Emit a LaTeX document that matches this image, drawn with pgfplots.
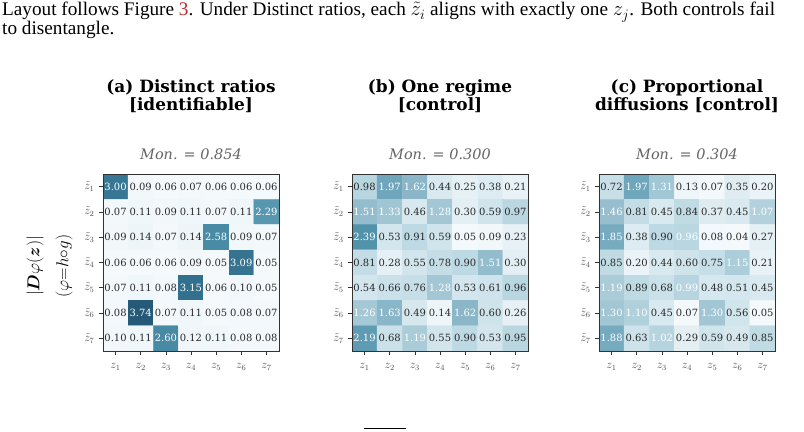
\documentclass[border=0pt]{standalone}
\usepackage{amsmath}
\usepackage{pgfplots}
\usepackage{pgfplotstable}
\pgfplotsset{compat=1.18}
\usepackage{fontspec}
\setmainfont{Liberation Serif}
\newfontfamily\djs{DejaVu Serif}
\definecolor{capred}{RGB}{190,40,40}
\definecolor{framec}{RGB}{50,50,50}
\definecolor{tickc}{RGB}{80,80,80}
\definecolor{monc}{RGB}{100,100,100}
\definecolor{dtext}{RGB}{40,40,40}
\newcommand\cellnum[2]{\ifdim#1pt>#2pt\textcolor{white}{#1}\else\textcolor{dtext}{#1}\fi}
\pgfplotsset{
  colormap={hmap}{rgb255=(248,251,253) rgb255=(215,232,239) rgb255=(187,216,226) rgb255=(155,193,208) rgb255=(118,170,191) rgb255=(84,149,174) rgb255=(62,127,155) rgb255=(47,107,137) rgb255=(36,90,120)},
  hm/.style={
    scale only axis, width=176bp, height=177bp,
    xmin=0.5, xmax=7.5, ymin=0.5, ymax=7.5,
    xtick={1,...,7}, ytick={1,...,7},
    xticklabels={$z_1$,$z_2$,$z_3$,$z_4$,$z_5$,$z_6$,$z_7$},
    yticklabels={$\tilde{z}_7$,$\tilde{z}_6$,$\tilde{z}_5$,$\tilde{z}_4$,$\tilde{z}_3$,$\tilde{z}_2$,$\tilde{z}_1$},
    tick align=outside, major tick length=4bp,
    xtick pos=left, ytick pos=left,
    tick style={framec, line width=0.6bp},
    axis line style={framec, line width=0.8bp},
    ticklabel style={font=\fontsize{11.5}{13}\selectfont, text=tickc},
    xticklabel style={yshift=-5bp},
    yticklabel style={xshift=-1bp},
    colormap name=hmap,
    point meta min=0, point meta max=3.74,
    axis on top, anchor=south west,
  },
  hmtext/.style={
    only marks, mark=none, point meta=explicit symbolic,
    nodes near coords={\cellnum{\pgfplotspointmeta}{#1}},
    nodes near coords style={anchor=center, inner sep=0pt, font=\djs\fontsize{10}{12}\selectfont},
  },
}
\pgfplotstableread{
x y c
1 7 3.00
2 7 0.09
3 7 0.06
4 7 0.07
5 7 0.06
6 7 0.06
7 7 0.06
1 6 0.07
2 6 0.11
3 6 0.09
4 6 0.11
5 6 0.07
6 6 0.11
7 6 2.29
1 5 0.09
2 5 0.14
3 5 0.07
4 5 0.14
5 5 2.58
6 5 0.09
7 5 0.07
1 4 0.06
2 4 0.06
3 4 0.06
4 4 0.09
5 4 0.05
6 4 3.09
7 4 0.05
1 3 0.07
2 3 0.11
3 3 0.08
4 3 3.15
5 3 0.06
6 3 0.10
7 3 0.05
1 2 0.08
2 2 3.74
3 2 0.07
4 2 0.11
5 2 0.05
6 2 0.08
7 2 0.07
1 1 0.10
2 1 0.11
3 1 2.60
4 1 0.12
5 1 0.11
6 1 0.08
7 1 0.08
}\tA
\pgfplotstableread{
x y c
1 7 0.98
2 7 1.97
3 7 1.62
4 7 0.44
5 7 0.25
6 7 0.38
7 7 0.21
1 6 1.51
2 6 1.33
3 6 0.46
4 6 1.28
5 6 0.30
6 6 0.59
7 6 0.97
1 5 2.39
2 5 0.53
3 5 0.91
4 5 0.59
5 5 0.05
6 5 0.09
7 5 0.23
1 4 0.81
2 4 0.28
3 4 0.55
4 4 0.78
5 4 0.90
6 4 1.51
7 4 0.30
1 3 0.54
2 3 0.66
3 3 0.76
4 3 1.28
5 3 0.53
6 3 0.61
7 3 0.96
1 2 1.26
2 2 1.63
3 2 0.49
4 2 0.14
5 2 1.62
6 2 0.60
7 2 0.26
1 1 2.19
2 1 0.68
3 1 1.19
4 1 0.55
5 1 0.90
6 1 0.53
7 1 0.95
}\tB
\pgfplotstableread{
x y c
1 7 0.72
2 7 1.97
3 7 1.31
4 7 0.13
5 7 0.07
6 7 0.35
7 7 0.20
1 6 1.46
2 6 0.81
3 6 0.45
4 6 0.84
5 6 0.37
6 6 0.45
7 6 1.07
1 5 1.85
2 5 0.38
3 5 0.90
4 5 0.96
5 5 0.08
6 5 0.04
7 5 0.27
1 4 0.85
2 4 0.20
3 4 0.44
4 4 0.60
5 4 0.75
6 4 1.15
7 4 0.21
1 3 1.19
2 3 0.89
3 3 0.68
4 3 0.99
5 3 0.48
6 3 0.51
7 3 0.45
1 2 1.30
2 2 1.10
3 2 0.45
4 2 0.07
5 2 1.30
6 2 0.56
7 2 0.05
1 1 1.88
2 1 0.63
3 1 1.02
4 1 0.29
5 1 0.59
6 1 0.49
7 1 0.85
}\tC
\begin{document}
\begin{tikzpicture}
\useasboundingbox (0,0) rectangle (804bp,432bp);
% caption
\node[anchor=base west, inner sep=0pt, font=\fontsize{19.3}{20}\selectfont] at (2bp,416bp) {Layout follows Figure \textcolor{capred}{3}. Under Distinct ratios, each $\tilde{z}_i$ aligns with exactly one $z_j$. Both controls fail};
\node[anchor=base west, inner sep=0pt, font=\fontsize{19.3}{20}\selectfont] at (2bp,397bp) {to disentangle.};
% titles
\begin{scope}[every node/.style={inner sep=0pt, anchor=base}]
\node[font=\djs\bfseries\fontsize{17}{18}\selectfont] at (191bp,339bp) {(a) Distinct ratios};
\node[font=\djs\bfseries\fontsize{17}{18}\selectfont] at (191bp,321bp) {[identifiable]};
\node[font=\djs\bfseries\fontsize{17}{18}\selectfont] at (440bp,339bp) {(b) One regime};
\node[font=\djs\bfseries\fontsize{17}{18}\selectfont] at (440bp,321bp) {[control]};
\node[font=\djs\bfseries\fontsize{17}{18}\selectfont] at (687bp,339bp) {(c) Proportional};
\node[font=\djs\bfseries\fontsize{17}{18}\selectfont] at (687bp,321bp) {diffusions [control]};
\node[font=\djs\itshape\fontsize{14.5}{15}\selectfont, text=monc] at (191bp,272bp) {Mon. = 0.854};
\node[font=\djs\itshape\fontsize{14.5}{15}\selectfont, text=monc] at (440bp,272bp) {Mon. = 0.300};
\node[font=\djs\itshape\fontsize{14.5}{15}\selectfont, text=monc] at (687bp,272bp) {Mon. = 0.304};
\end{scope}
% y label
\node[rotate=90, inner sep=0pt, font=\fontsize{17}{18}\selectfont] at (35bp,166bp) {$|\boldsymbol{D}\varphi(\boldsymbol{z})|$};
\node[rotate=90, inner sep=0pt, font=\fontsize{17}{18}\selectfont] at (64bp,166bp) {$(\varphi{=}h{\circ}g)$};
% panels
\begin{axis}[hm, at={(103bp,81bp)}]
\addplot[matrix plot*, mesh/cols=7, point meta=explicit] table[x=x,y=y,meta=c]{\tA};
\addplot[hmtext=1.0] table[x=x,y=y,meta=c]{\tA};
\end{axis}
\begin{axis}[hm, at={(352bp,81bp)}]
\addplot[matrix plot*, mesh/cols=7, point meta=explicit] table[x=x,y=y,meta=c]{\tB};
\addplot[hmtext=1.1] table[x=x,y=y,meta=c]{\tB};
\end{axis}
\begin{axis}[hm, at={(599bp,81bp)}]
\addplot[matrix plot*, mesh/cols=7, point meta=explicit] table[x=x,y=y,meta=c]{\tC};
\addplot[hmtext=0.93] table[x=x,y=y,meta=c]{\tC};
\end{axis}
\draw[line width=0.8bp] (364bp,3.5bp) -- (406bp,3.5bp);
\end{tikzpicture}
\end{document}
